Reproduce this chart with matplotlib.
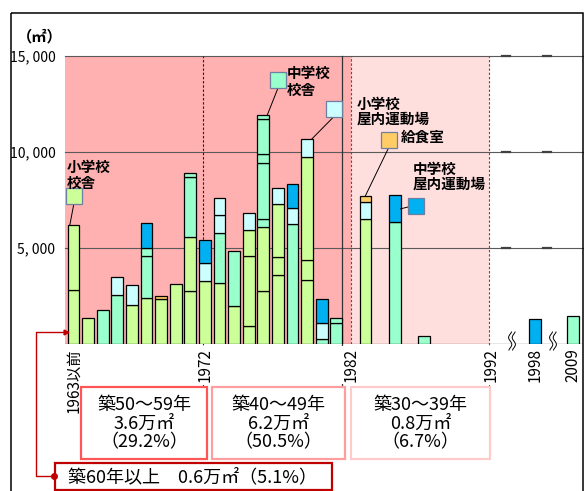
import matplotlib
matplotlib.use("Agg")
import matplotlib.pyplot as plt
from matplotlib.patches import Rectangle
import numpy as np

plt.rcParams['font.family'] = ['Noto Sans CJK JP', 'DejaVu Sans']

# ---------------- data ----------------
year_labels = ["1963以前", "1964", "1965", "1966", "1967", "1968", "1969", "1970",
               "1971", "1972", "1973", "1974", "1975", "1976", "1977", "1978",
               "1979", "1980", "1981", "1983", "1985", "1987", "1998", "2009"]

# building areas (m2) per year, one entry per building, by category
elem_school_bldg = [[2800, 3400], [1350], [], [], [2050], [2400], [2350], [3100],
                    [2750, 2800], [3300], [3200], [2000], [920, 3660, 1340],
                    [2750, 3330], [3610, 920, 2745], [], [3320, 1040, 5400], [], [],
                    [6500], [], [], [], []]
junior_school_bldg = [[], [], [1750], [2550], [], [2200, 420], [], [],
                      [3130, 210], [], [2600], [2830], [],
                      [420, 2950, 420, 1840, 210], [], [6250], [], [250], [1100, 250],
                      [], [6370], [430], [], [1440]]
elem_school_gym = [[], [], [], [950], [1000], [], [], [],
                   [], [900], [940, 880], [], [890], [], [865], [850],
                   [900], [850], [], [900], [], [], [], []]
kitchen = [[], [], [], [], [], [], [130], [],
           [], [], [], [], [], [], [], [],
           [], [], [], [330], [], [], [], []]
junior_school_gym = [[], [], [], [], [], [1280], [], [],
                     [], [1200], [], [], [], [], [], [1215],
                     [], [1220], [], [], [1370], [], [1320], []]

category_names = ["小学校\n校舎", "中学校\n校舎", "小学校\n屋内運動場", "給食室", "中学校\n屋内運動場"]
category_colors = ["#CCFF99", "#99FFCC", "#CCFFFF", "#FFCC66", "#00B0F0"]

tick_labels = ["1963以前", "1972", "1982", "1992", "1998", "2009"]
ytick_values = [5000, 10000, 15000]
ytick_labels = ["5, 000", "10, 000", "15, 000"]

age_groups = ["築50～59年", "築40～49年", "築30～39年"]
age_areas = ["3.6万㎡", "6.2万㎡", "0.8万㎡"]
age_shares = ["（29.2%）", "（50.5%）", "（6.7%）"]
oldest_text = "築60年以上　0.6万㎡（5.1%）"

# ---------------- layout helpers ----------------
W, H = 584, 491
PX0, SLOT = 73.5, 14.6     # pixel of slot 0, pixels per year slot
Y0, YPX = 344, 288         # pixel of y=0, pixel height of 15000


def sx(px):
    return (px - PX0) / SLOT


def vy(py):
    return (Y0 - py) * 15000 / YPX


broken_pos = {"1992": 28.6, "1998": 31.6, "2009": 34.2}


def xpos(label):
    if label in broken_pos:
        return broken_pos[label]
    if label.endswith("以前"):
        return 0.0
    return float(int(label) - 1963)


fig = plt.figure(figsize=(W / 100, H / 100), dpi=100)
ax = fig.add_axes([65 / W, 1 - Y0 / H, (583 - 65) / W, YPX / H])
ax.set_xlim(sx(65), sx(583))
ax.set_ylim(0, 15000)
for sp in ax.spines.values():
    sp.set_visible(False)

# background bands
ax.axvspan(sx(65), sx(351), color="#FFB0B0", lw=0, zorder=0.2)
ax.axvspan(sx(351), sx(489), color="#FFDEDE", lw=0, zorder=0.2)

# gridlines
for v in ytick_values:
    ax.axhline(v, color="#5A5A5A", lw=0.8, zorder=0.5, clip_on=False)
ax.axhline(0, color="#404040", lw=0.9, zorder=0.6)

# vertical separators
ylow = vy(387)
dash = (0, (2.2, 1.6))
ax.plot([sx(202.5)] * 2, [ylow, 15000], ls=dash, color="#222222", lw=0.8, clip_on=False, zorder=0.7)
ax.plot([sx(342)] * 2, [ylow, 15000], color="#333333", lw=0.9, clip_on=False, zorder=0.7)
ax.plot([sx(351)] * 2, [0, 15000], ls=dash, color="#555555", lw=0.8, zorder=0.7)
ax.plot([sx(489)] * 2, [ylow, 15000], ls=dash, color="#555555", lw=0.8, clip_on=False, zorder=0.7)

# stacked bars
xs = np.array([xpos(l) for l in year_labels])
bottoms = np.zeros(len(year_labels))
for values, color in zip([elem_school_bldg, junior_school_bldg, elem_school_gym,
                          kitchen, junior_school_gym], category_colors):
    depth = max(len(v) for v in values)
    for k in range(depth):
        h = np.array([v[k] if len(v) > k else 0 for v in values], dtype=float)
        m = h > 0
        ax.bar(xs[m], h[m], bottom=bottoms[m], width=0.8, color=color,
               edgecolor="black", linewidth=0.9, zorder=3)
        bottoms += h

# axes ticks
ax.set_xticks([xpos(l) for l in tick_labels])
ax.set_xticklabels(tick_labels, rotation=90, fontsize=11, va="top", ha="center")
for lab in ax.get_xticklabels():
    lab.set_bbox(dict(boxstyle="square,pad=0.12", fc="white", ec="none"))
ax.set_yticks(ytick_values)
ax.set_yticklabels(ytick_labels, fontsize=10)
ax.tick_params(axis="x", length=0, pad=3)
ax.tick_params(axis="y", length=0, pad=7)
ax.xaxis.set_zorder(1.5)

# callouts: square position (px), text left (px), text line centres (px)
callouts = [
    (0, (74, 195.5), 67, [167, 182.5], "bottom", -0.25, 0),
    (13, (278, 80.5), 287, [72.5, 89.5], "bottom", 0.27, 0),
    (16, (334, 109), 357, [103.5, 119], "bottom", 0.3, 0),
    (19, (389, 139.5), 401, [137], "bottom", 0.0, 0),
    (20, (415.5, 206), 413, [168.5, 184], "left", 0.4, -700),
]
for ci, (bar_i, (sqx, sqy), tx, tys, side, dx, dy) in enumerate(callouts):
    color = category_colors[ci]
    if side == "bottom":
        start = (sx(sqx), vy(sqy + 7.5))
    else:
        start = (sx(sqx - 7.5), vy(sqy + 1))
    end = (xs[bar_i] + dx, bottoms[bar_i] + dy)
    ax.plot([start[0], end[0]], [start[1], end[1]], color="black", lw=0.7, zorder=4.5)
    ax.plot(sx(sqx), vy(sqy), marker="s", ms=11, mfc=color, mec="#6F7F9F", mew=0.9,
            zorder=5, clip_on=False)
    for line, ty in zip(category_names[ci].split("\n"), tys):
        ax.text(sx(tx), vy(ty), line, ha="left", va="center", fontsize=10.5,
                fontweight="bold", zorder=6)

# ---------------- overlay in pixel coordinates ----------------
ov = fig.add_axes([0, 0, 1, 1], zorder=10)
ov.set_xlim(0, W)
ov.set_ylim(H, 0)
ov.axis("off")
ov.patch.set_alpha(0)

# outer frame
ov.add_patch(Rectangle((11, 13), 572, 490, fill=False, ec="black", lw=1.1, clip_on=False))

# unit label
ov.text(17, 36, "（㎡）", ha="left", va="center", fontsize=11, fontweight="bold")

# axis breaks
t = np.linspace(-1, 1, 40)
for cx in (512, 553):
    yy = 341 + 9 * t
    wig = 1.6 * np.sin(np.pi * t * 1.3)
    xl, xr = cx - 1.8 + wig, cx + 1.8 + wig
    ov.fill(np.r_[xl, xr[::-1]], np.r_[yy, yy[::-1]], color="white", lw=0, zorder=2)
    ov.plot(xl, yy, color="black", lw=0.7, zorder=3)
    ov.plot(xr, yy, color="black", lw=0.7, zorder=3)
for gy in (56, 152, 248):
    for gx in (506, 547):
        ov.plot([gx - 4, gx + 4], [gy, gy], color="#404040", lw=1.6, zorder=2)

# summary boxes
box_x = [(81, 207), (212, 345), (351, 490)]
box_ec = ["#FF5555", "#FF9E9E", "#FFCACA"]
for (x0, x1), ec, g, a, s in zip(box_x, box_ec, age_groups, age_areas, age_shares):
    ov.add_patch(Rectangle((x0, 387), x1 - x0, 72, fill=False, ec=ec, lw=1.6))
    cx = (x0 + x1) / 2
    for line, ty in zip([g, a, s], [405, 423.5, 442]):
        ov.text(cx, ty, line, ha="center", va="center", fontsize=13)

ov.add_patch(Rectangle((55, 463), 277, 27, fill=False, ec="#C00000", lw=1.6))
ov.text(68, 477, oldest_text, ha="left", va="center", fontsize=13)

# red connector
ov.plot([66, 36, 36, 54], [332, 332, 476, 476], color="#C00000", lw=1.0, zorder=3)
ov.plot([66], [332], marker=">", ms=3.5, color="#C00000", zorder=3)
ov.plot([54], [476], marker="o", ms=4, color="#C00000", zorder=3)

fig.savefig("out.png", dpi=100)
